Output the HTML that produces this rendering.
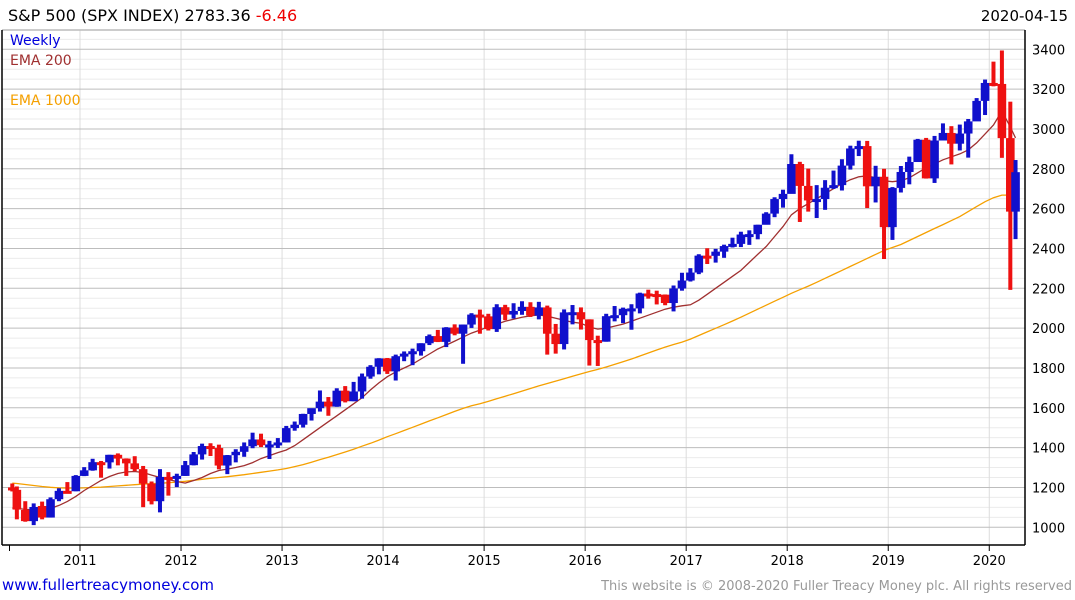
<!DOCTYPE html>
<html><head><meta charset="utf-8"><style>
body{margin:0;background:#fff;font-family:"Liberation Sans","DejaVu Sans",sans-serif;}
#wrap{position:relative;width:1075px;height:600px;overflow:hidden;}
svg text{font-family:"DejaVu Sans","Liberation Sans",sans-serif;}
</style></head><body>
<div id="wrap">
<svg id="chart" width="1075" height="600">
<text x="8" y="21" font-size="16" fill="#000">S&amp;P 500 (SPX INDEX) 2783.36 <tspan fill="#e00">-6.46</tspan></text>
<text x="1068" y="21" font-size="15" fill="#000" text-anchor="end">2020-04-15</text>
<g id="grid"></g>
<g id="axes"></g>
<g id="ema1000"></g>
<g id="ema200"></g>
<g id="bars"></g>
<text x="10" y="45" font-size="14" fill="#0000dd">Weekly</text>
<text x="10" y="65" font-size="14" fill="#a03030">EMA 200</text>
<text x="10" y="105" font-size="14" fill="#f5a000">EMA 1000</text>
<text x="2" y="590" font-size="15" fill="#0000dd">www.fullertreacymoney.com</text>
<text x="1072" y="590" font-size="13" fill="#999" text-anchor="end">This website is © 2008-2020 Fuller Treacy Money plc. All rights reserved</text>
</svg>
</div>
<script>
// monthly data, Apr 2010 .. Apr 2020
const startYear = 2010, startMonth = 4;
const opens = [1200,1188,1087,1031,1107,1049,1141,1183,1181,
1258,1286,1327,1326,1364,1345,1321,1292,1219,1131,1253,1247,
1258,1312,1366,1408,1398,1310,1362,1379,1407,1441,1412,1416,
1426,1498,1515,1569,1598,1631,1606,1686,1633,1682,1757,1806,
1848,1783,1859,1872,1884,1924,1960,1931,2003,1972,2018,2068,
2059,1995,2105,2068,2086,2107,2063,2104,1972,1920,2079,2080,
2044,1940,1932,2060,2065,2097,2099,2174,2171,2168,2126,2199,
2239,2279,2364,2363,2384,2412,2423,2470,2472,2519,2575,2648,
2674,2824,2714,2641,2648,2705,2718,2816,2902,2914,2712,2760,
2507,2704,2784,2834,2946,2752,2942,2980,2926,2977,3038,3141,
3231,3226,2954,2585];
const highs = [1220,1205,1131,1120,1129,1150,1196,1227,1262,
1302,1344,1333,1364,1371,1346,1357,1308,1230,1292,1277,1269,
1333,1378,1420,1422,1415,1363,1392,1426,1475,1470,1434,1448,
1509,1531,1570,1597,1687,1654,1698,1709,1730,1772,1814,1849,
1850,1867,1883,1897,1924,1968,1991,2005,2019,2018,2075,2093,
2072,2120,2117,2125,2135,2130,2132,2113,2021,2094,2116,2104,
2044,1962,2072,2111,2103,2120,2178,2193,2188,2169,2214,2278,
2301,2371,2401,2398,2419,2454,2484,2491,2519,2582,2657,2695,
2873,2835,2801,2718,2743,2791,2848,2916,2941,2940,2815,2800,
2708,2814,2861,2950,2955,2965,3028,3014,3022,3050,3155,3248,
3338,3394,3137,2844];
const lows = [1180,1040,1028,1011,1040,1049,1131,1173,1181,
1257,1284,1249,1295,1311,1258,1282,1101,1115,1075,1159,1202,
1258,1311,1340,1358,1291,1267,1326,1354,1397,1403,1343,1398,
1426,1485,1501,1536,1581,1560,1605,1627,1633,1646,1746,1768,
1770,1737,1834,1814,1862,1915,1930,1905,1964,1821,2001,1972,
1988,1981,2040,2048,2067,2056,2044,1867,1872,1893,2019,1993,
1812,1810,1932,2034,2025,1992,2074,2148,2119,2115,2084,2188,
2234,2271,2322,2329,2353,2405,2407,2418,2446,2520,2557,2605,
2683,2533,2585,2553,2594,2699,2691,2796,2864,2603,2631,2347,
2443,2681,2722,2848,2751,2729,2952,2822,2892,2856,3051,3070,
3214,2855,2192,2447];
const closes = [1187,1089,1031,1102,1049,1141,1183,1181,1258,
1286,1327,1326,1364,1345,1321,1292,1219,1131,1253,1247,1258,
1312,1366,1408,1398,1310,1362,1379,1407,1441,1412,1416,1426,
1498,1515,1569,1598,1631,1606,1686,1633,1682,1757,1806,1848,
1783,1859,1872,1884,1924,1960,1931,2003,1972,2018,2068,2059,
1995,2105,2068,2086,2107,2063,2104,1972,1920,2079,2080,2044,
1940,1932,2060,2065,2097,2099,2174,2171,2168,2126,2199,2239,
2279,2364,2363,2384,2412,2423,2470,2472,2519,2575,2648,2674,
2824,2714,2641,2648,2705,2718,2816,2902,2914,2712,2760,2507,
2704,2784,2834,2946,2752,2942,2980,2926,2977,3038,3141,3231,
3226,2954,2585,2783];
const ema200 = [1097,1095,1090,1088,1090,1095,1110,1130,1155,
1185,1210,1235,1255,1270,1278,1280,1275,1262,1250,1240,1230,
1222,1235,1250,1270,1285,1292,1300,1310,1325,1345,1360,1375,
1388,1410,1440,1470,1500,1530,1560,1590,1620,1650,1690,1725,
1756,1780,1800,1820,1845,1870,1895,1915,1935,1955,1975,1990,
2007,2020,2035,2045,2055,2062,2066,2060,2050,2040,2030,2025,
2005,1995,2000,2010,2020,2035,2050,2065,2080,2095,2105,2112,
2117,2140,2170,2200,2230,2260,2290,2330,2370,2410,2460,2510,
2569,2600,2625,2650,2675,2700,2725,2745,2760,2765,2755,2740,
2735,2740,2755,2780,2805,2825,2845,2860,2875,2895,2930,2975,
3020,3090,3010,2955];
const ema1000 = [1222,1220,1215,1210,1205,1201,1198,1197,1197,
1198,1200,1202,1205,1208,1211,1214,1217,1219,1221,1224,1227,
1231,1236,1241,1246,1250,1254,1259,1264,1270,1276,1282,1288,
1295,1305,1315,1327,1340,1352,1365,1378,1392,1407,1422,1438,
1455,1470,1486,1502,1518,1534,1550,1566,1582,1597,1610,1620,
1632,1645,1658,1671,1684,1697,1710,1722,1734,1746,1758,1770,
1782,1793,1805,1818,1831,1845,1860,1875,1890,1905,1918,1930,
1945,1963,1981,1999,2017,2036,2055,2075,2095,2115,2135,2155,
2175,2193,2211,2230,2250,2270,2290,2310,2330,2350,2370,2390,
2405,2420,2440,2460,2480,2500,2520,2540,2560,2585,2610,2635,
2655,2668,2668,2665];
const yTicks = [1000,1200,1400,1600,1800,2000,2200,2400,2600,2800,3000,3200,3400];
const xYears = [2011,2012,2013,2014,2015,2016,2017,2018,2019,2020];

const NS = "http://www.w3.org/2000/svg";
const L = 2, R = 1025, T = 30, B = 545;
function yS(v){ return 527.3 - (v - 1000) * 0.19917; }
function xS(t){ return 80 + (t - 2011) * 101.03; }
function mk(tag, attrs, parent){ const e = document.createElementNS(NS, tag); for (const k in attrs) e.setAttribute(k, attrs[k]); parent.appendChild(e); return e; }
function monthT(i){ const m = startMonth - 1 + i; const y = startYear + Math.floor(m / 12); const mm = m % 12; let t = y + (mm + 0.5) / 12; if (i === 0) t = 2010.33; if (i === closes.length - 1) t = 2020.26; return t; }

const grid = document.getElementById('grid'), axes = document.getElementById('axes');
for (let v = 1000; v <= 3450; v += 50) {
  if (v % 200 === 0) continue;
  const l = mk('line', {x1: L, x2: R, y1: yS(v), y2: yS(v), stroke: '#ebebeb', 'stroke-width': 1}, grid);
  
  
}
xYears.forEach(yr => {
  const l = mk('line', {x1: xS(yr), x2: xS(yr), y1: T, y2: B, stroke: '#dcdcdc', 'stroke-width': 1}, grid);
  
  
  const tk = mk('line', {x1: xS(yr), x2: xS(yr), y1: B, y2: B + 6, stroke: '#000', 'stroke-width': 1}, axes);
  
  
  const tx = mk('text', {x: xS(yr), y: B + 20, 'font-size': 13, 'text-anchor': 'middle', fill: '#000'}, axes);
  tx.textContent = yr;
  
  
});
yTicks.forEach(v => {
  const l = mk('line', {x1: L, x2: R, y1: yS(v), y2: yS(v), stroke: '#bdbdbd', 'stroke-width': 1}, grid);
  
  
  const tx = mk('text', {x: 1032, y: yS(v) + 5, 'font-size': 13, fill: '#000'}, axes);
  tx.textContent = v;
  
  
});
const first = mk('line', {x1: 9.5, x2: 9.5, y1: B, y2: B + 6, stroke: '#000'}, axes);


[[L, T, R, T, '#bbb'], [L, T, L, B, '#000'], [L, B, R, B, '#000'], [R, T, R, B, '#000']].forEach(a => {
  const l = mk('line', {x1: a[0], y1: a[1], x2: a[2], y2: a[3], stroke: a[4], 'stroke-width': 1.5}, axes);
  
  
});

function line(arr, color, g, name){
  const pts = arr.map((v, i) => xS(monthT(i)).toFixed(1) + ',' + yS(v).toFixed(1)).join(' ');
  const p = mk('polyline', {points: pts, fill: 'none', stroke: color, 'stroke-width': 1.3}, g);
  
  
}
line(ema1000, '#f5a000', document.getElementById('ema1000'), 'ema-1000-line');
line(ema200, '#a03030', document.getElementById('ema200'), 'ema-200-line');

const bars = document.getElementById('bars');
closes.forEach((c, i) => {
  const o = opens[i], h = highs[i], lo = lows[i];
  const x = xS(monthT(i));
  const col = c >= o ? '#1010cc' : '#ee1111';
  const w = mk('rect', {x: x - 2, y: yS(h), width: 4, height: yS(lo) - yS(h), fill: col}, bars);
  
  
  const top = yS(Math.max(o, c)), bot = yS(Math.min(o, c));
  const r = mk('rect', {x: x - 4.3, y: top, width: 8.6, height: Math.max(3, bot - top), fill: col}, bars);
  
  
});
</script>
</body></html>
